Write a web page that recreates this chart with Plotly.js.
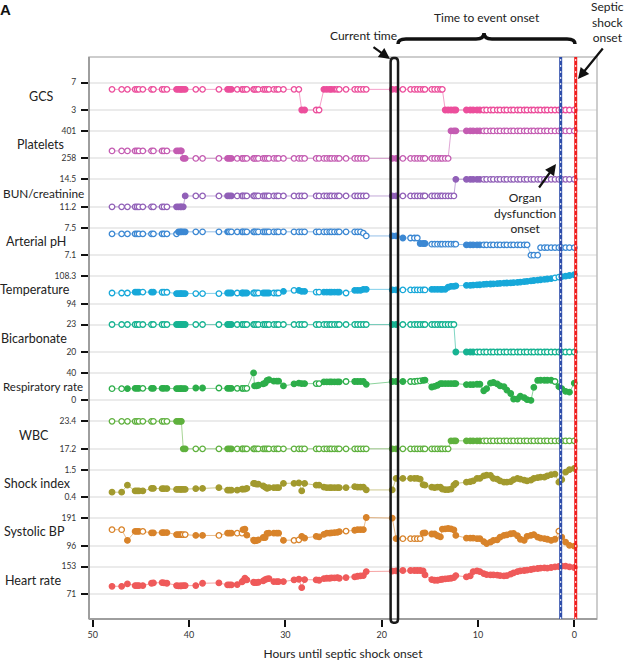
<!DOCTYPE html>
<html><head><meta charset="utf-8">
<script src="https://cdn.plot.ly/plotly-3.0.1.min.js"></script>
<style>html,body{margin:0;padding:0;background:#fff}</style>
</head><body><div id="chart" style="width:624px;height:666px"></div>
<script>
// ---------------- DATA ----------------
const hours = [
 48.0,47.0,46.4,45.6,45.4,45.2,44.8,43.9,43.7,42.8,
 42.6,42.3,41.3,41.1,40.9,40.8,40.6,40.4,39.3,38.6,
 36.9,36.0,35.8,35.6,35.0,34.5,34.4,34.2,34.0,33.3,
 33.2,33.0,32.8,32.3,32.1,31.9,31.7,31.2,30.9,30.7,
 30.2,29.1,28.6,
 28.3,28.0,26.8,26.5,26.0,25.7,25.4,25.2,24.9,24.6,24.4,23.7,22.8,22.5,22.2,21.9,21.6,
 18.9,18.5,
 17.8,17.0,16.6,16.3,16.0,15.7,15.5,14.8,14.5,14.2,13.9,13.7,13.4,13.1,12.8,12.5,12.3,
 11.2,10.8,10.5,10.1,9.8,9.4,9.1,8.7,8.4,8.0,7.7,7.3,7.0,6.6,6.3,5.9,
 5.6,5.2,4.9,4.5,4.2,3.8,3.5,3.1,2.8,2.4,2.0,1.6,1.3,0.9,0.5,0.0];

// bottom-to-top order of the panels
const variables = ['Heart rate','Systolic BP','Shock index','WBC','Respiratory rate',
  'Bicarbonate','Temperature','Arterial pH','BUN/creatinine','Platelets','GCS'];
const tickLow  = [71, 96, 0.4, 17.2, 0, 20, 94, 7.1, 11.2, 258, 3];
const tickHigh = [153, 191, 1.5, 23.4, 40, 23, 108.3, 7.5, 14.5, 401, 7];
const tickLowText  = ['71','96','0.4','17.2','0','20','94','7.1','11.2','258','3'];
const tickHighText = ['153','191','1.5','23.4','40','23','108.3','7.5','14.5','401','7'];
const colors = ['#EF5A5A','#D8832A','#A29A2E','#5FB13E','#2DAE4A','#17B392',
  '#17A8D9','#3C88D3','#9160B8','#C45CB2','#EC4F9C'];

const heartRate = [
 94,94,101,96,96,96,96,103,104,105, 104,103,96,95,95,95,96,96,96,103,
 104,98,98,98,99,107,110,118,113,106, 105,105,106,110,114,116,117,108,108,108,
 108,113,115,
 90,114,113,112,117,118,118,119,119,120,118,120,122,124,125,126,138,
 139,140,
 141,141,141,141,141,140,128,114,112,112,114,115,116,117,118,120,126,
 122,125,138,140,138,132,129,128,128,127,126,125,126,130,134,138,
 140,141,142,144,146,147,148,149,148,150,152,153,154,154,152,150];
const systolicBP = [
 151,151,114,145,145,145,145,140,140,141, 141,141,134,134,134,134,134,134,131,131,
 131,139,139,139,139,139,151,153,132,115, 112,113,116,124,124,138,139,139,139,139,
 114,114,116,
 128,122,128,126,135,139,139,140,141,142,144,146,149,151,151,151,193,
 191,120,
 120,120,120,120,120,139,140,136,136,130,126,153,154,155,154,150,131,
 122,122,122,120,120,110,103,108,114,116,125,131,133,137,138,130,
 118,114,128,131,134,125,122,120,118,114,118,146,125,108,97,94];
const shockIndex = [
 0.6,0.6,0.88,0.65,0.65,0.65,0.65,0.75,0.75,0.74, 0.74,0.74,0.71,0.71,0.71,0.71,0.71,0.71,0.74,0.75,
 0.78,0.68,0.68,0.68,0.68,0.72,0.72,0.72,0.75,0.95, 0.95,0.92,0.92,0.85,0.8,0.75,0.78,0.78,0.78,0.78,
 0.95,0.95,0.97,
 0.65,0.95,0.88,0.88,0.8,0.78,0.78,0.78,0.78,0.78,0.78,0.78,0.82,0.8,0.8,0.8,0.69,
 0.69,1.15,
 1.15,1.15,1.15,1.15,1.12,0.9,0.88,0.8,0.78,0.8,0.8,0.72,0.7,0.7,0.72,0.88,0.95,
 1.0,1.02,1.05,1.15,1.15,1.25,1.28,1.27,1.15,1.12,1.05,1.0,1.0,1.02,1.1,1.15,
 1.12,1.08,1.05,1.08,1.15,1.18,1.2,1.2,1.25,1.3,1.32,1.0,1.1,1.4,1.5,1.55];
const wbc = [
 23.4,23.4,23.4,23.4,23.4,23.4,23.4,23.4,23.4,23.4, 23.4,23.4,23.4,23.4,23.4,23.4,17.2,17.2,17.2,17.2,
 17.2,17.2,17.2,17.2,17.2,17.2,17.2,17.2,17.2,17.2, 17.2,17.2,17.2,17.2,17.2,17.2,17.2,17.2,17.2,17.2,
 17.2,17.2,17.2,
 17.2,17.2,17.2,17.2,17.2,17.2,17.2,17.2,17.2,17.2,17.2,17.2,17.2,17.2,17.2,17.2,17.2,
 17.2,17.2,
 17.2,17.2,17.2,17.2,17.2,17.2,17.2,17.2,17.2,17.2,17.2,17.2,17.2,17.2,19,19,19,
 19,19,19,19,19,19,19,19,19,19,19,19,19,19,19,19,
 19,19,19,19,19,19,19,19,19,19,19,19,19,19,19,19];
const respRate = [
 17,17,17,17.5,17.5,17.5,17.5,17.5,17.5,17.5, 17.5,17.5,17.2,17.2,17.2,17.2,17.2,17.2,18,18,
 18,17.6,17.6,17.6,17.6,17.6,17.6,17.6,17.6,40, 21,21,22,24,25,29,30,28,28,28,
 21,24,25,
 24.4,24.4,24.4,24.4,26.8,26.8,26.8,26.8,27,27,27,27.5,27.5,27.5,27.5,27.5,23.4,
 27.5,27.5,
 27.5,27.5,27.5,28,28.5,29,29.5,19.5,20.5,22,24.4,24.4,24.4,24.4,24.4,24.4,24.4,
 23,23,23,23.5,23.5,14,17,25,26,24,21,20,15,10,2,2,
 6,4,1,0,19,29,29.3,29.3,29.3,29.3,27.5,20,17,13,12,25];
const bicarbonate = [
 23,23,23,23,23,23,23,23,23,23, 23,23,23,23,23,23,23,23,23,23,
 23,23,23,23,23,23,23,23,23,23, 23,23,23,23,23,23,23,23,23,23,
 23,23,23,
 23,23,23,23,23,23,23,23,23,23,23,23,23,23,23,23,23,
 23,23,
 23,23,23,23,23,23,23,23,23,23,23,23,23,23,23,23,20,
 20,20,20,20,20,20,20,20,20,20,20,20,20,20,20,20,
 20,20,20,20,20,20,20,20,20,20,20,20,20,20,20,20];
const temperature = [
 99.5,99.5,99.5,100,100,100,100,100,100,99.9, 99.9,99.9,99.2,99.2,99.2,99.2,99.2,99.2,99.2,99.2,
 99.2,99.5,99.5,99.5,99.5,99.5,99.5,99.5,99.5,99.5, 99.5,99.5,99.5,99.5,99.5,99.5,99.5,99.5,99.5,99.5,
 100.4,100.9,100.9,
 100.4,100.4,100,100,100,100,100,100,100,100,100,99.5,100.9,100.9,100.9,101.4,101.4,
 101.1,101.1,
 101.1,101.1,101.1,101.1,101.1,101.1,101.1,101.4,101.4,101.4,101.4,101.4,101.4,102.5,103,103,103.2,
 103.5,103.5,103.6,103.7,103.8,104,104.1,104.2,104.3,104.4,104.5,104.6,104.7,104.8,104.9,105,
 105.2,105.4,105.6,105.8,106,106.2,106.4,106.6,106.8,107,107.4,107.8,108,108.3,108.6,109];
const arterialPH = [
 7.41,7.41,7.41,7.41,7.41,7.41,7.41,7.41,7.41,7.41, 7.41,7.41,7.41,7.44,7.44,7.44,7.44,7.44,7.44,7.44,
 7.44,7.44,7.44,7.44,7.44,7.44,7.44,7.44,7.44,7.44, 7.44,7.44,7.44,7.44,7.44,7.44,7.44,7.44,7.44,7.44,
 7.44,7.44,7.44,
 7.44,7.44,7.44,7.44,7.44,7.44,7.44,7.44,7.44,7.44,7.44,7.44,7.44,7.44,7.44,7.42,7.38,
 7.38,7.38,
 7.35,7.35,7.35,7.35,7.27,7.27,7.27,7.26,7.26,7.26,7.26,7.26,7.26,7.26,7.26,7.26,7.26,
 7.25,7.25,7.25,7.25,7.25,7.25,7.25,7.25,7.25,7.25,7.25,7.25,7.25,7.25,7.25,7.25,
 7.25,7.25,7.25,7.1,7.1,7.1,7.21,7.21,7.21,7.21,7.21,7.21,7.21,7.21,7.21,7.21];
const bunCreatinine = [
 11.2,11.2,11.2,11.2,11.2,11.2,11.2,11.2,11.2,11.2, 11.2,11.2,11.2,11.2,11.2,11.2,11.2,12.5,12.5,12.5,
 12.5,12.5,12.5,12.5,12.5,12.5,12.5,12.5,12.5,12.5, 12.5,12.5,12.5,12.5,12.5,12.5,12.5,12.5,12.5,12.5,
 12.5,12.5,12.5,
 12.5,12.5,12.5,12.5,12.5,12.5,12.5,12.5,12.5,12.5,12.5,12.5,12.5,12.5,12.5,12.5,12.5,
 12.5,12.5,
 12.5,12.5,12.5,12.5,12.5,12.5,12.5,12.5,12.5,12.5,12.5,12.5,12.5,12.5,12.5,12.5,14.5,
 14.5,14.5,14.5,14.5,14.5,14.5,14.5,14.5,14.5,14.5,14.5,14.5,14.5,14.5,14.5,14.5,
 14.5,14.5,14.5,14.5,14.5,14.5,14.5,14.5,14.5,14.5,14.5,14.5,14.5,14.5,14.5,14.5];
const platelets = [
 297,297,297,297,297,297,297,297,297,297, 297,297,297,297,297,297,258,258,258,258,
 258,258,258,258,258,258,258,258,258,258, 258,258,258,258,258,258,258,258,258,258,
 258,258,258,
 258,258,258,258,258,258,258,258,258,258,258,258,258,258,258,258,258,
 258,258,
 258,258,258,258,258,258,258,258,258,258,258,258,258,258,401,401,401,
 401,401,401,401,401,401,401,401,401,401,401,401,401,401,401,401,
 401,401,401,401,401,401,401,401,401,401,401,401,401,401,401,401];
const gcs = [
 6,6,6,6,6,6,6,6,6,6, 6,6,6,6,6,6,6,6,6,6,
 6,6,6,6,6,6,6,6,6,6, 6,6,6,6,6,6,6,6,6,6,
 6,6,6,
 3,3,3,3,6,6,6,6,6,6,6,6,6,6,6,6,6,
 6,6,
 6,6,6,6,6,6,6,6,6,6,6,6,3,3,3,3,3,
 3,3,3,3,3,3,3,3,3,3,3,3,3,3,3,3,
 3,3,3,3,3,3,3,3,3,3,3,3,3,3,3,3];

// index ranges of filled (measured) markers; all other markers are hollow
const heartRateFilled = [[0,110]];
const systolicBPFilled = [[2,5],[7,15],[18,19],[21,23],[26,40],[43,53],[55,61],[67,105],[107,110]];
const shockIndexFilled = [[0,110]];
const wbcFilled = [[12,17],[21,23],[60,61],[76,83]];
const respRateFilled = [[2,5],[7,19],[21,23],[29,44],[47,53],[55,62],[67,104],[106,110]];
const bicarbonateFilled = [[12,17],[21,23],[60,61],[78,81]];
const temperatureFilled = [[3,5],[7,8],[12,17],[21,23],[25,28],[33,36],[40,40],[42,44],[47,53],[55,61],[69,104],[107,110]];
const arterialPHFilled = [[13,17],[21,21],[60,62],[66,68],[79,83]];
const bunCreatinineFilled = [[12,17],[21,23],[60,61],[78,83]];
const plateletsFilled = [[12,17],[21,23],[60,61],[76,83]];
const gcsFilled = [[12,17],[21,23],[43,44],[47,51],[60,61],[74,83]];

const series = [heartRate, systolicBP, shockIndex, wbc, respRate, bicarbonate,
  temperature, arterialPH, bunCreatinine, platelets, gcs];
const filled = [heartRateFilled, systolicBPFilled, shockIndexFilled, wbcFilled, respRateFilled,
  bicarbonateFilled, temperatureFilled, arterialPHFilled, bunCreatinineFilled, plateletsFilled, gcsFilled];

const currentTime = [19.07, 18.3];   // hours (box edges)
const organOnset = 1.41;             // hours
const shockOnset = -0.15;            // hours

// ---------------- LAYOUT ----------------
const W = 624, H = 666, ML = 89, MR = 27, MT = 57, MB = 47;
const PW = W - ML - MR, PH = H - MT - MB;
const PERIOD = 48.4, GAP = 27.5, BASE = 25, PAD = (PERIOD - GAP) / 2;
const FONT = 'Lato, "Open Sans", sans-serif';
// label placement: [pixel x, anchor, font size]
const labelPos = [[33,'center',12.5], [34.5,'center',12.5], [37,'center',12.5], [34,'center',12.5],
  [1,'left',11.5], [34,'center',12.5], [35,'center',12.5], [36,'center',12.5], [1,'left',11.8],
  [40,'center',12.5], [41,'center',12.5]];

const px2paperX = p => (p - ML) / PW;
const px2paperY = p => (MT + PH - p) / PH;

function hexA(h, a) {
  const n = parseInt(h.slice(1), 16);
  return `rgba(${(n>>16)&255},${(n>>8)&255},${n&255},${a})`;
}

const layout = {
  width: W, height: H,
  margin: {l: ML, r: MR, t: MT, b: MB, pad: 0},
  paper_bgcolor: '#fff', plot_bgcolor: '#fff',
  showlegend: false,
  font: {family: FONT, color: '#222'},
  xaxis: {
    range: [50.39, -2.36], tickvals: [50, 40, 30, 20, 10, 0],
    ticks: 'outside', ticklen: 7, tickwidth: 2, tickcolor: '#111',
    showgrid: false, zeroline: false, showline: false,
    anchor: 'free', position: 0,
    tickfont: {family: FONT, size: 9, color: '#333'},
    title: {text: 'Hours until septic shock onset', font: {family: FONT, size: 12, color: '#222'}, standoff: 10},
    fixedrange: true
  },
  shapes: [], annotations: []
};

const traces = [];
variables.forEach((name, i) => {
  const key = i === 0 ? 'yaxis' : 'yaxis' + (i + 1);
  const ref = i === 0 ? 'y' : 'y' + (i + 1);
  const lo = BASE + PERIOD * i;
  const d0 = Math.max(0, (lo - PAD) / PH), d1 = Math.min(1, (lo + GAP + PAD) / PH);
  const span = tickHigh[i] - tickLow[i], ext = span * PAD / GAP;
  layout[key] = {
    domain: [d0, d1], range: [tickLow[i] - ext, tickHigh[i] + ext],
    tickmode: 'array', tickvals: [tickLow[i], tickHigh[i]], ticktext: [tickLowText[i], tickHighText[i]],
    showgrid: true, gridcolor: '#ebebeb', gridwidth: 2, zeroline: false, showline: false,
    ticks: 'outside', ticklen: 7, tickwidth: 2, tickcolor: '#111',
    ticklabelstandoff: 3,
    tickfont: {family: FONT, size: 8.5, color: '#333'},
    anchor: 'x', fixedrange: true
  };
  const vals = series[i];
  const isFilled = hours.map((_, k) => filled[i].some(r => k >= r[0] && k <= r[1]));
  traces.push({
    type: 'scatter', mode: 'lines+markers', x: hours, y: vals, yaxis: ref, xaxis: 'x',
    line: {color: hexA(colors[i], 0.55), width: 1},
    marker: {size: 5.5, color: isFilled.map(f => f ? colors[i] : '#ffffff'),
             line: {color: colors[i], width: 1.3}},
    cliponaxis: false, hoverinfo: 'skip'
  });
  layout.annotations.push({
    xref: 'paper', yref: ref + ' domain', x: px2paperX(labelPos[i][0]), y: 0.5,
    xanchor: labelPos[i][1], yanchor: 'middle', text: name, showarrow: false,
    font: {family: FONT, size: labelPos[i][2], color: '#222'}
  });
});

// frame
layout.shapes.push(
  {type: 'rect', xref: 'paper', yref: 'paper', x0: 0, x1: 1, y0: 0, y1: 1, line: {color: '#bdbdbd', width: 1.5}},
  {type: 'line', xref: 'paper', yref: 'paper', x0: 0, x1: 0, y0: 0, y1: 1, line: {color: '#9e9e9e', width: 2}},
  {type: 'line', xref: 'paper', yref: 'paper', x0: 0, x1: 1, y0: 0, y1: 0, line: {color: '#9e9e9e', width: 2}}
);
// onset lines
[[organOnset, '#2E4DAA'], [shockOnset, '#F01D1D']].forEach(([x, c]) => {
  layout.shapes.push(
    {type: 'line', xref: 'x', yref: 'paper', x0: x, x1: x, y0: 0, y1: 1, line: {color: c, width: 3}},
    {type: 'line', xref: 'x', yref: 'paper', x0: x, x1: x, y0: 0, y1: 1, line: {color: '#ffffff', width: 1, dash: '2px,4px'}}
  );
});
// current-time box (rounded)
{
  const a = currentTime[0], b = currentTime[1], y0 = -0.0065, y1 = 0.998, rx = 0.3, ry = 0.007;
  layout.shapes.push({type: 'path', xref: 'x', yref: 'paper', line: {color: '#1a1a1a', width: 2.5},
    path: `M ${a},${y0+ry} L ${a},${y1-ry} Q ${a},${y1} ${a-rx},${y1} L ${b+rx},${y1} Q ${b},${y1} ${b},${y1-ry} ` +
          `L ${b},${y0+ry} Q ${b},${y0} ${b+rx},${y0} L ${a-rx},${y0} Q ${a},${y0} ${a},${y0+ry} Z`});
}
// curly brace (time to event onset)
{
  const X = px2paperX, Y = px2paperY;
  const xl = 398, xr = 575, xm = 484, yb = 44, yt = 39, yp = 33;
  const p = `M ${X(xl)},${Y(yb)} Q ${X(xl)},${Y(yt)} ${X(xl+8)},${Y(yt)} L ${X(xm-8)},${Y(yt)} ` +
            `Q ${X(xm)},${Y(yt)} ${X(xm)},${Y(yp)} Q ${X(xm)},${Y(yt)} ${X(xm+8)},${Y(yt)} ` +
            `L ${X(xr-8)},${Y(yt)} Q ${X(xr)},${Y(yt)} ${X(xr)},${Y(yb)}`;
  layout.shapes.push({type: 'path', xref: 'paper', yref: 'paper', path: p, line: {color: '#111', width: 3.5}});
}
// texts and arrows
const X = px2paperX, Y = px2paperY;
const txt = (x, y, t, size, extra) => Object.assign({xref: 'paper', yref: 'paper', x: X(x), y: Y(y), text: t,
  showarrow: false, xanchor: 'center', yanchor: 'middle', font: {family: FONT, size: size || 12, color: '#222'}}, extra || {});
const arrow = (hx, hy, tx, ty) => ({xref: 'paper', yref: 'paper', x: X(hx), y: Y(hy), ax: tx - hx, ay: ty - hy,
  text: '', showarrow: true, arrowhead: 2, arrowsize: 1, arrowwidth: 2.2, arrowcolor: '#111'});
layout.annotations.push(
  txt(5, 9, '<b>A</b>', 15, {font: {family: 'Liberation Sans, Arial', size: 15, color: '#111'}}),
  txt(363, 35, 'Current time', 12),
  txt(487, 17, 'Time to event onset', 12),
  txt(607, 22, 'Septic<br>shock<br>onset', 12),
  txt(525, 213, 'Organ<br>dysfunction<br>onset', 12),
  arrow(390, 59, 372, 46),
  arrow(578, 79, 604, 47),
  arrow(556, 164, 538, 189)
);

Plotly.newPlot('chart', traces, layout, {staticPlot: true, displayModeBar: false});
</script></body></html>
